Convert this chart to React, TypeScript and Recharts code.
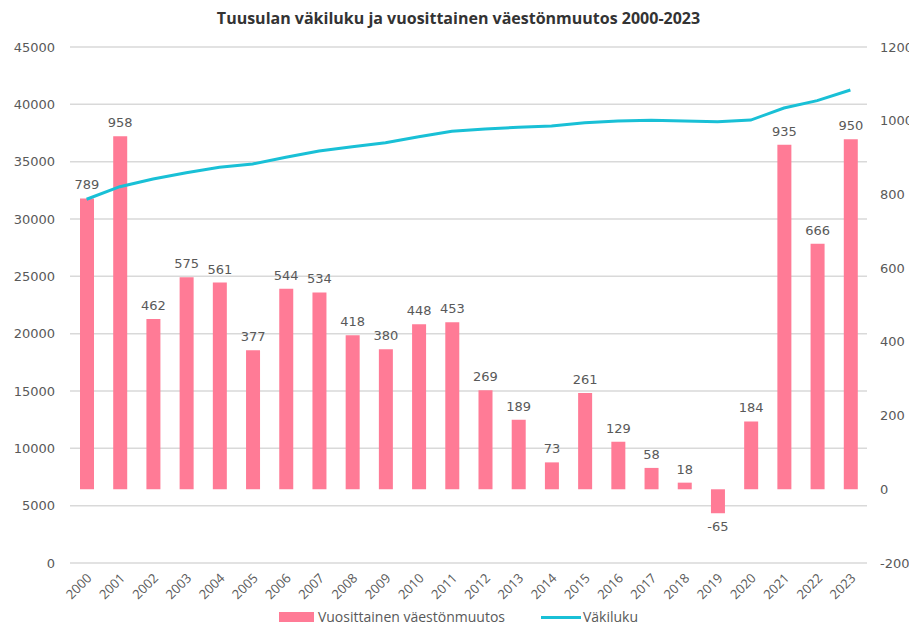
import React from "react";
import {
  ComposedChart,
  Bar,
  Line,
  XAxis,
  YAxis,
  CartesianGrid,
  Legend,
  LabelList,
} from "recharts";

const years = [
  "2000", "2001", "2002", "2003", "2004", "2005", "2006", "2007",
  "2008", "2009", "2010", "2011", "2012", "2013", "2014", "2015",
  "2016", "2017", "2018", "2019", "2020", "2021", "2022", "2023",
];

// vuosittainen väestönmuutos (right axis)
const muutos = [
  789, 958, 462, 575, 561, 377, 544, 534, 418, 380, 448, 453,
  269, 189, 73, 261, 129, 58, 18, -65, 184, 935, 666, 950,
];

// väkiluku (left axis)
const vakiluku = [
  31720, 32820, 33490, 34040, 34510, 34800, 35380, 35930, 36300, 36650, 37180, 37650,
  37850, 38000, 38110, 38400, 38550, 38610, 38550, 38490, 38630, 39680, 40320, 41250,
];

const leftTicks = [0, 5000, 10000, 15000, 20000, 25000, 30000, 35000, 40000, 45000];
const rightTicks = [-200, 0, 200, 400, 600, 800, 1000, 1200];

const BAR_COLOR = "#FF7B96";
const LINE_COLOR = "#19C0D6";
const TEXT = "#595959";

const data = years.map((y, i) => ({
  year: y,
  muutos: muutos[i],
  vakiluku: vakiluku[i],
}));

const BarLabel = (props: any) => {
  const { x, y, width, height, value } = props;
  const top = Math.min(y, y + height);
  const bottom = Math.max(y, y + height);
  const ly = value < 0 ? bottom + 18 : top - 9;
  return (
    <text
      x={x + width / 2}
      y={ly}
      textAnchor="middle"
      fill={TEXT}
      fontSize={13}
      fontFamily="DejaVu Sans"
    >
      {value}
    </text>
  );
};

const YearTick = (props: any) => {
  const { x, y, payload } = props;
  return (
    <g transform={`translate(${x + 6},${y + 8})`}>
      <text
        textAnchor="end"
        transform="rotate(-45)"
        fill={TEXT}
        fontSize={13}
        fontFamily="Open Sans"
      >
        {payload.value}
      </text>
    </g>
  );
};

const renderLegend = () => (
  <div
    style={{
      display: "flex",
      justifyContent: "center",
      alignItems: "center",
      fontFamily: "Open Sans",
      fontSize: 14,
      lineHeight: "18px",
      color: TEXT,
      paddingBottom: 6,
    }}
  >
    <span style={{ display: "inline-block", width: 35, height: 10, background: BAR_COLOR, marginRight: 4 }} />
    <span style={{ marginRight: 36 }}>Vuosittainen väestönmuutos</span>
    <span style={{ display: "inline-block", width: 40, height: 3, background: LINE_COLOR, marginRight: 2 }} />
    <span>Väkiluku</span>
  </div>
);

export default function App() {
  return (
    <div style={{ position: "relative", margin: -8, width: 917, height: 632, background: "#fff" }}>
      <div
        style={{
          position: "absolute",
          top: 7,
          left: 0,
          width: 917,
          textAlign: "center",
          fontFamily: "Open Sans",
          fontWeight: "bold",
          fontSize: 16,
          color: "#333333",
        }}
      >
        Tuusulan väkiluku ja vuosittainen väestönmuutos 2000-2023
      </div>
      <ComposedChart
        width={917}
        height={632}
        data={data}
        margin={{ top: 47, right: 0, bottom: 0, left: 0 }}
        barSize={14}
      >
        <CartesianGrid yAxisId="left" vertical={false} stroke="#D9D9D9" strokeWidth={1.5} />
        <XAxis
          dataKey="year"
          tick={<YearTick />}
          tickLine={false}
          axisLine={false}
          interval={0}
          height={45}
        />
        <YAxis
          yAxisId="left"
          orientation="left"
          domain={[0, 45000]}
          ticks={leftTicks}
          width={70}
          tickLine={false}
          axisLine={false}
          tickSize={0}
          tickMargin={15}
          tick={{ fill: TEXT, fontSize: 13, fontFamily: "DejaVu Sans" }}
        />
        <YAxis
          yAxisId="right"
          orientation="right"
          domain={[-200, 1200]}
          ticks={rightTicks}
          width={50}
          tickLine={false}
          axisLine={false}
          tickSize={0}
          tickMargin={13}
          tick={{ fill: TEXT, fontSize: 13, fontFamily: "DejaVu Sans", textAnchor: "start" }}
        />
        <Legend verticalAlign="bottom" height={24} content={renderLegend} />
        <Bar
          yAxisId="right"
          dataKey="muutos"
          name="Vuosittainen väestönmuutos"
          fill={BAR_COLOR}
          isAnimationActive={false}
        >
          <LabelList dataKey="muutos" content={<BarLabel />} />
        </Bar>
        <Line
          yAxisId="left"
          dataKey="vakiluku"
          name="Väkiluku"
          stroke={LINE_COLOR}
          strokeWidth={3}
          dot={false}
          type="linear"
          isAnimationActive={false}
        />
      </ComposedChart>
    </div>
  );
}
